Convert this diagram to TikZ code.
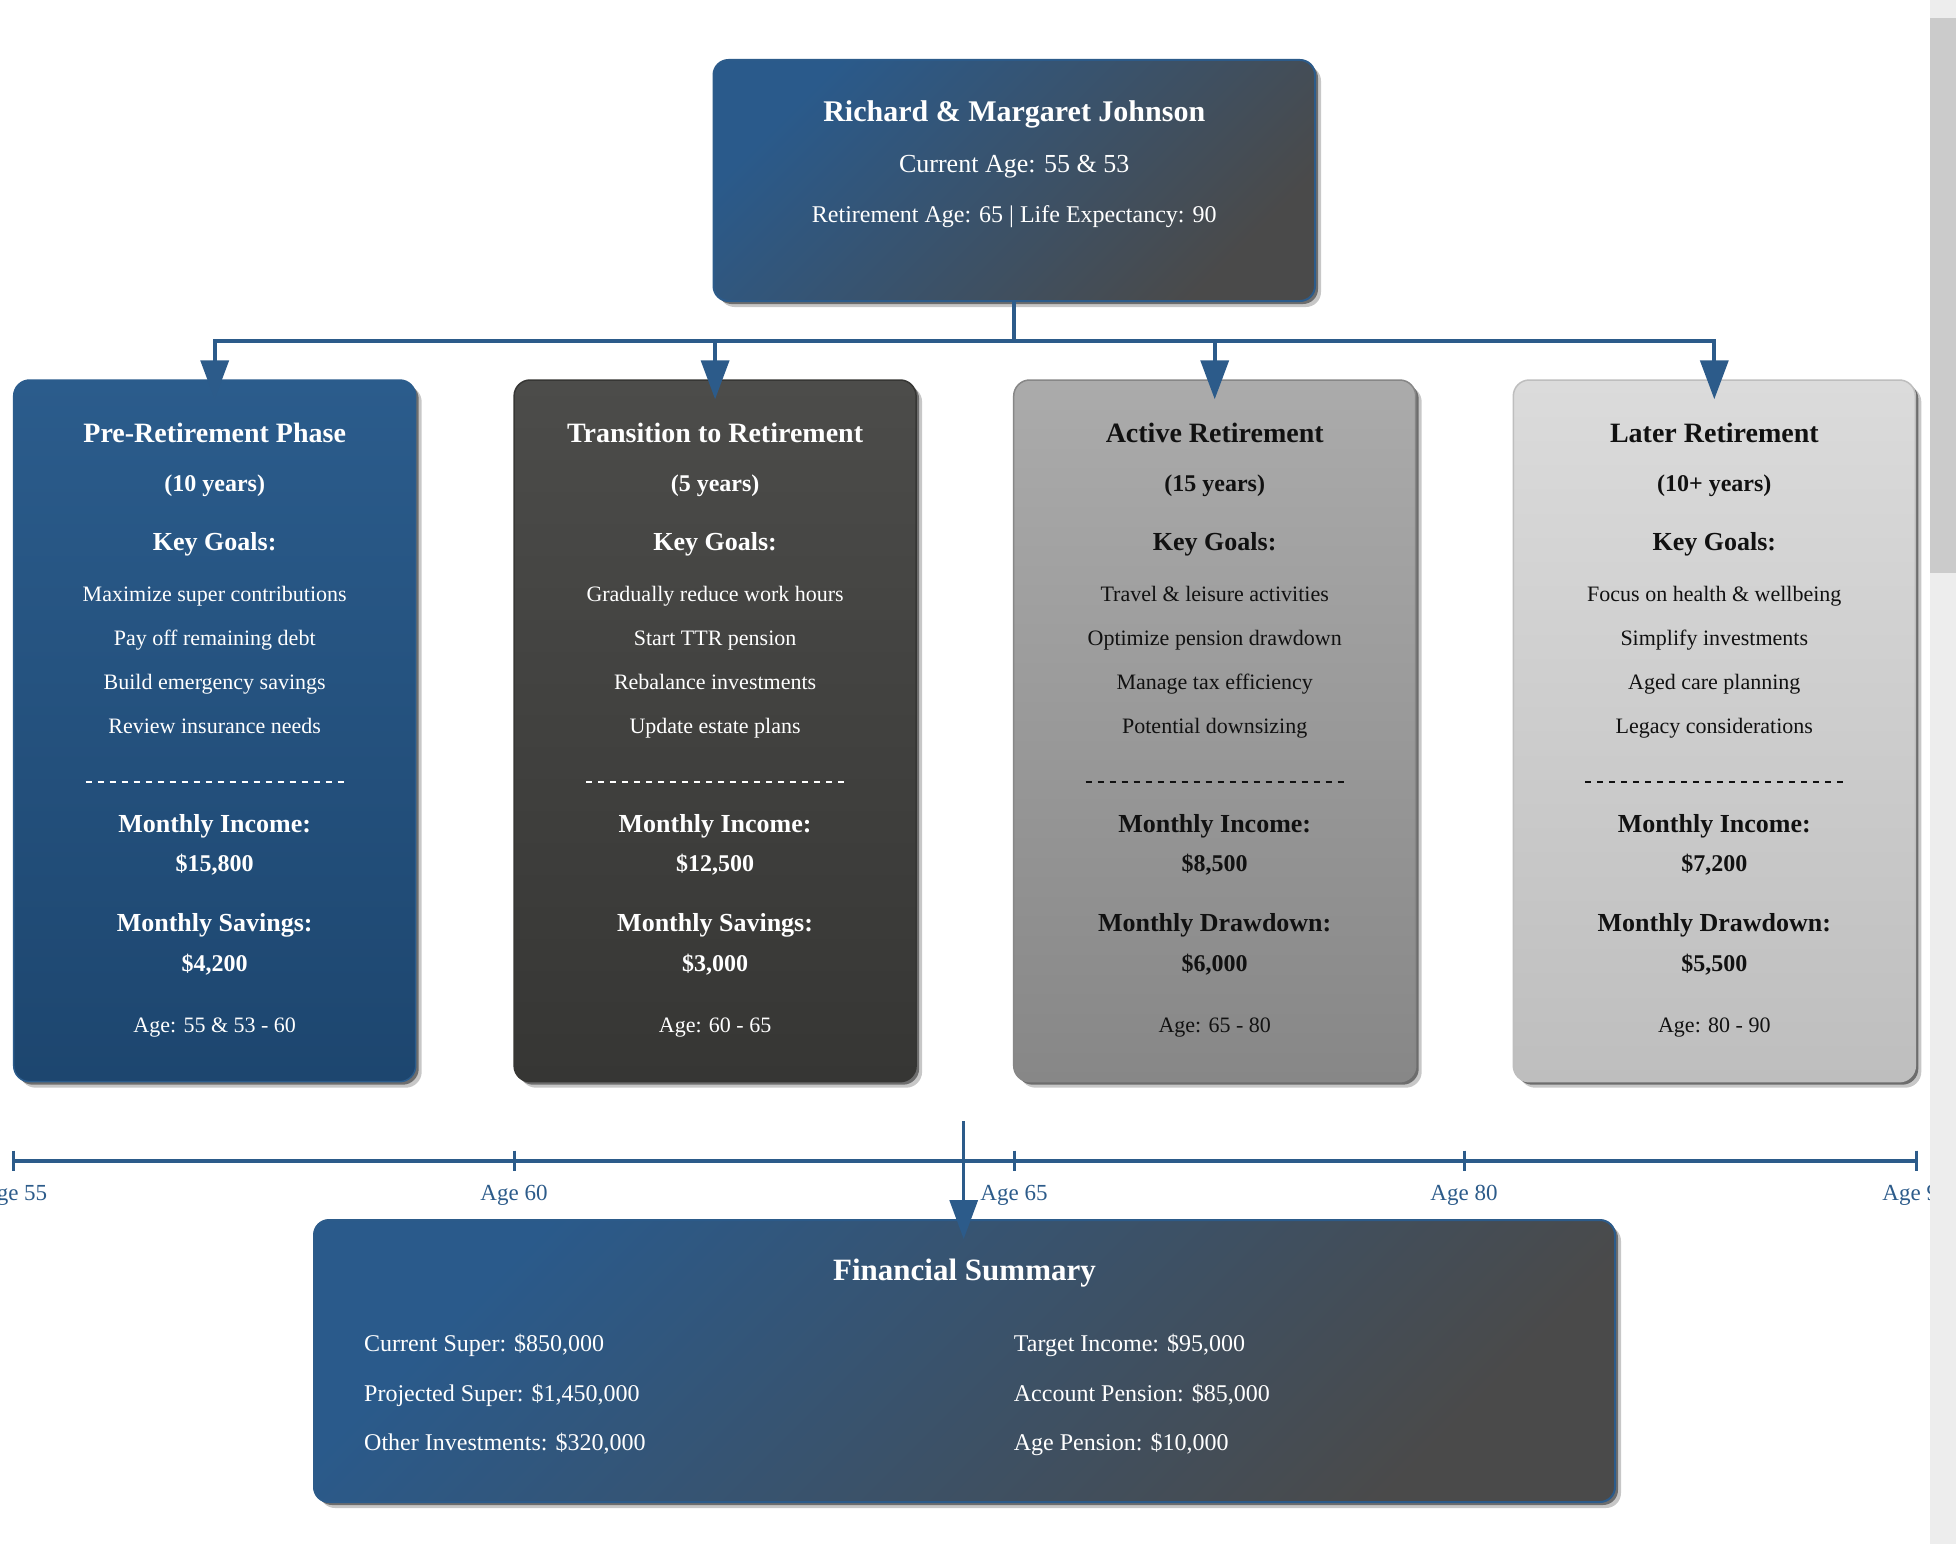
\documentclass[tikz,border=0pt]{standalone}
\usepackage{fontspec}
\setmainfont{Liberation Serif}
\usetikzlibrary{shadows,arrows.meta,calc}
\definecolor{navy}{HTML}{2C5B8A}
\definecolor{gradA}{HTML}{2A5A8B}
\definecolor{gradB}{HTML}{4A4A4A}
\definecolor{pOneA}{HTML}{2B5C8C}
\definecolor{pOneB}{HTML}{1D466F}
\definecolor{pTwoA}{HTML}{4C4C4A}
\definecolor{pTwoB}{HTML}{363634}
\definecolor{pThreeA}{HTML}{ABABAB}
\definecolor{pThreeB}{HTML}{878787}
\definecolor{pFourA}{HTML}{DBDBDB}
\definecolor{pFourB}{HTML}{BEBEBE}
\definecolor{darktext}{HTML}{111111}
\definecolor{track}{HTML}{EDEDED}
\definecolor{thumb}{HTML}{CBCBCB}
\newcommand\fsz[1]{\fontsize{#1}{#1}\selectfont}
\tikzset{
  softshadow/.style={
    general shadow={shadow xshift=3pt,shadow yshift=-3pt,fill=black,opacity=.45},
    general shadow={shadow xshift=6pt,shadow yshift=-6pt,fill=black,opacity=.22}},
  mainbox/.style={rounded corners=15pt, draw=navy, line width=2pt, softshadow,
    top color=gradA, bottom color=gradB, shading angle=45, inner sep=0pt},
  phasebox/.style={rounded corners=16pt, line width=1.5pt, softshadow,
    minimum width=402pt, minimum height=701.7pt, inner sep=0pt, shading angle=45},
  txt/.style={inner sep=0pt, anchor=base, align=center},
  conn/.style={draw=navy, line width=3.7pt, -{Triangle[length=39pt,width=28pt]}, shorten >=-20pt},
  dashline/.style={line width=1.4pt, dash pattern=on 6pt off 6pt},
  tickline/.style={draw=navy, line width=3pt},
  agelbl/.style={inner sep=0pt, anchor=base, text=navy, font=\fsz{23}}
}
\newcommand\phasetop[5]{%
  \node[txt,text=#3,font=\fsz{28}\bfseries] (#1t) at (#2,442) {#4};
  \node[txt,text=#3,font=\fsz{24}\bfseries] (#1y) at (#2,491.6) {#5};
  \node[txt,text=#3,font=\fsz{26}\bfseries] (#1k) at (#2,550.5) {Key Goals:};
}
\newcommand\phasegoals[7]{%
  \node[txt,text=#3,font=\fsz{22}] (#1ga) at (#2,601.5) {#4};
  \node[txt,text=#3,font=\fsz{22}] (#1gb) at (#2,645.1) {#5};
  \node[txt,text=#3,font=\fsz{22}] (#1gc) at (#2,689.6) {#6};
  \node[txt,text=#3,font=\fsz{22}] (#1gd) at (#2,733.2) {#7};
  \draw[dashline,draw=#3] (#2-129,782) -- (#2+129,782);
}
\newcommand\phasemoney[7]{%
  \node[txt,text=#3,font=\fsz{26}\bfseries] (#1la) at (#2,832) {Monthly Income:};
  \node[txt,text=#3,font=\fsz{24}\bfseries] (#1va) at (#2,871) {#4};
  \node[txt,text=#3,font=\fsz{26}\bfseries] (#1lb) at (#2,931.6) {#5};
  \node[txt,text=#3,font=\fsz{24}\bfseries] (#1vb) at (#2,971.5) {#6};
  \node[txt,text=#3,font=\fsz{22}] (#1age) at (#2,1032) {#7};
}
\begin{document}
\begin{tikzpicture}[x=1pt,y=-1pt]
\useasboundingbox (0,0) rectangle (1956,1544);
\fill[white] (0,0) rectangle (1956,1544);

% top box
\node[mainbox, minimum width=601.5pt, minimum height=241pt] (top) at (1014.25,180.5) {};
\node[txt,text=white,font=\fsz{30}\bfseries] (topname) at (1014.25,122) {Richard \& Margaret Johnson};
\node[txt,text=white,font=\fsz{26}] (topage) at (1014.25,172) {Current Age: 55 \& 53};
\node[txt,text=white,font=\fsz{24}] (topret) at (1014.25,222) {Retirement Age: 65 | Life Expectancy: 90};

% phase boxes
\node[phasebox, draw=pOneA, top color=pOneA, bottom color=pOneB] (p1) at (214.7,730.85) {};
\node[phasebox, draw=pTwoB, top color=pTwoA, bottom color=pTwoB] (p2) at (715.1,730.85) {};
\node[phasebox, draw=pThreeB, top color=pThreeA, bottom color=pThreeB] (p3) at (1214.7,730.85) {};
\node[phasebox, draw=pFourB, top color=pFourA, bottom color=pFourB] (p4) at (1714.3,730.85) {};

\phasetop{a}{214.7}{white}{Pre-Retirement Phase}{(10 years)}
\phasegoals{a}{214.7}{white}{Maximize super contributions}{Pay off remaining debt}{Build emergency savings}{Review insurance needs}
\phasemoney{a}{214.7}{white}{\$15,800}{Monthly Savings:}{\$4,200}{Age: 55 \& 53 - 60}

\phasetop{b}{715.1}{white}{Transition to Retirement}{(5 years)}
\phasegoals{b}{715.1}{white}{Gradually reduce work hours}{Start TTR pension}{Rebalance investments}{Update estate plans}
\phasemoney{b}{715.1}{white}{\$12,500}{Monthly Savings:}{\$3,000}{Age: 60 - 65}

\phasetop{c}{1214.7}{darktext}{Active Retirement}{(15 years)}
\phasegoals{c}{1214.7}{darktext}{Travel \& leisure activities}{Optimize pension drawdown}{Manage tax efficiency}{Potential downsizing}
\phasemoney{c}{1214.7}{darktext}{\$8,500}{Monthly Drawdown:}{\$6,000}{Age: 65 - 80}

\phasetop{d}{1714.3}{darktext}{Later Retirement}{(10+ years)}
\phasegoals{d}{1714.3}{darktext}{Focus on health \& wellbeing}{Simplify investments}{Aged care planning}{Legacy considerations}
\phasemoney{d}{1714.3}{darktext}{\$7,200}{Monthly Drawdown:}{\$5,500}{Age: 80 - 90}

% connectors
\coordinate (bus) at (1014.25,340.7);
\foreach \p in {p1,p2,p3,p4}{
  \draw[conn] (top.south) -- (top.south |- bus) -| (\p.north);
}

% timeline
\coordinate (t55) at (13.7,1160.7);
\coordinate (t60) at (514,1160.7);
\coordinate (t65) at (1014,1160.7);
\coordinate (t80) at (1464,1160.7);
\coordinate (t90) at (1916,1160.7);
\draw[draw=navy, line width=3.8pt] (t55) -- (t90);
\foreach \t/\lab in {t55/Age 55,t60/Age 60,t65/Age 65,t80/Age 80,t90/Age 90}{
  \draw[tickline] ($(\t)+(0,-10)$) -- ($(\t)+(0,10)$);
  \node[agelbl] (\t lab) at ($(\t)+(0,39.5)$) {\lab};
}

% summary box
\node[mainbox, minimum width=1301pt, minimum height=282pt] (sum) at (964.5,1361) {};
\node[txt,text=white,font=\fsz{31}\bfseries] (sumtitle) at (964.5,1280) {Financial Summary};
\node[txt,anchor=base west,text=white,font=\fsz{24}] (s1) at (364,1351.7) {Current Super: \$850,000};
\node[txt,anchor=base west,text=white,font=\fsz{24}] (s2) at (364,1401) {Projected Super: \$1,450,000};
\node[txt,anchor=base west,text=white,font=\fsz{24}] (s3) at (364,1450.7) {Other Investments: \$320,000};
\node[txt,anchor=base west,text=white,font=\fsz{24}] (s4) at (1013.7,1351.7) {Target Income: \$95,000};
\node[txt,anchor=base west,text=white,font=\fsz{24}] (s5) at (1013.7,1401) {Account Pension: \$85,000};
\node[txt,anchor=base west,text=white,font=\fsz{24}] (s6) at (1013.7,1450.7) {Age Pension: \$10,000};

\coordinate (vtop) at (963.7,1121);
\draw[draw=navy, line width=3.3pt, -{Triangle[length=39pt,width=28pt]}, shorten >=-20pt] (vtop) -- (vtop |- sum.north);

% scrollbar
\fill[track] (1930,0) rectangle (1956,1544);
\fill[thumb] (1930,18) rectangle (1956,573);
\end{tikzpicture}
\end{document}
